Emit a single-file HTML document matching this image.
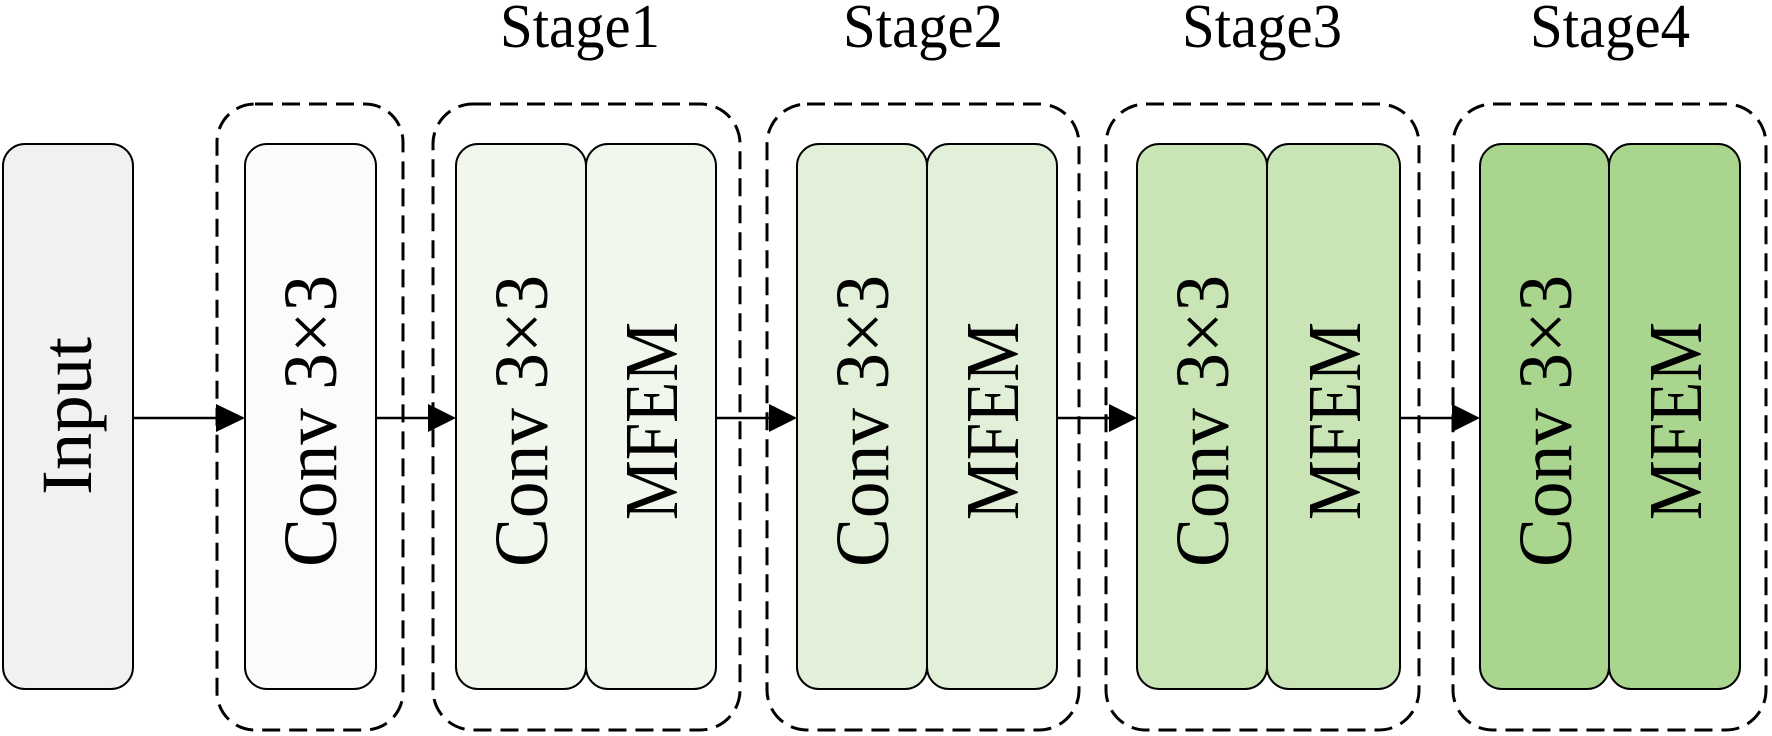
<!DOCTYPE html>
<html><head><meta charset="utf-8"><style>html,body{margin:0;padding:0;background:#fff}svg{display:block}</style></head><body>
<svg width="1772" height="736" viewBox="0 0 1772 736" xmlns="http://www.w3.org/2000/svg" font-family="Liberation Serif, serif">
<g fill="none" stroke="#000" stroke-width="3" stroke-dasharray="18,9">
<rect x="217" y="104" width="186" height="626" rx="38"/>
<rect x="433" y="104" width="307" height="626" rx="40"/>
<rect x="767" y="104" width="312" height="626" rx="40"/>
<rect x="1106" y="104" width="313" height="626" rx="40"/>
<rect x="1453" y="104" width="313" height="626" rx="40"/>
</g>
<g stroke="#000" stroke-width="2">
<rect x="3" y="144" width="130" height="545" rx="22" fill="#f1f1f1"/>
<rect x="245" y="144" width="131" height="545" rx="22" fill="#fbfcfa"/>
<rect x="456" y="144" width="130" height="545" rx="22" fill="#f1f7ec"/>
<rect x="586" y="144" width="130" height="545" rx="22" fill="#f1f7ec"/>
<rect x="797" y="144" width="130" height="545" rx="22" fill="#e2f0d9"/>
<rect x="927" y="144" width="130" height="545" rx="22" fill="#e2f0d9"/>
<rect x="1137" y="144" width="130" height="545" rx="22" fill="#c9e5b5"/>
<rect x="1267" y="144" width="133" height="545" rx="22" fill="#c9e5b5"/>
<rect x="1480" y="144" width="129" height="545" rx="22" fill="#a9d58e"/>
<rect x="1609" y="144" width="131" height="545" rx="22" fill="#a9d58e"/>
</g>
<g stroke="#000" stroke-width="2.5">
<line x1="133" y1="418" x2="216" y2="418"/>
<line x1="376" y1="418" x2="428" y2="418"/>
<line x1="716" y1="418" x2="769" y2="418"/>
<line x1="1057" y1="418" x2="1109" y2="418"/>
<line x1="1401" y1="418" x2="1452" y2="418"/>
</g>
<g fill="#000">
<path d="M216,404 L245,418 L216,432 z"/>
<path d="M428,404 L456,418 L428,432 z"/>
<path d="M769,404 L797,418 L769,432 z"/>
<path d="M1109,404 L1137,418 L1109,432 z"/>
<path d="M1452,404 L1480,418 L1452,432 z"/>
</g>
<g font-size="62" fill="#000" text-anchor="middle">
<text x="580" y="47" textLength="160" lengthAdjust="spacingAndGlyphs">Stage1</text>
<text x="923" y="47" textLength="160" lengthAdjust="spacingAndGlyphs">Stage2</text>
<text x="1262" y="47" textLength="160" lengthAdjust="spacingAndGlyphs">Stage3</text>
<text x="1610" y="47" textLength="160" lengthAdjust="spacingAndGlyphs">Stage4</text>
</g>
<g font-size="76" fill="#000" text-anchor="middle">
<text transform="translate(91,416) rotate(-90)" font-size="72" textLength="158" lengthAdjust="spacingAndGlyphs">Input</text>
<text transform="translate(336,421) rotate(-90)" textLength="292" lengthAdjust="spacingAndGlyphs">Conv 3×3</text>
<text transform="translate(547,421) rotate(-90)" textLength="292" lengthAdjust="spacingAndGlyphs">Conv 3×3</text>
<text transform="translate(677,421) rotate(-90)" textLength="198" lengthAdjust="spacingAndGlyphs">MFEM</text>
<text transform="translate(888,421) rotate(-90)" textLength="292" lengthAdjust="spacingAndGlyphs">Conv 3×3</text>
<text transform="translate(1018,421) rotate(-90)" textLength="198" lengthAdjust="spacingAndGlyphs">MFEM</text>
<text transform="translate(1228,421) rotate(-90)" textLength="292" lengthAdjust="spacingAndGlyphs">Conv 3×3</text>
<text transform="translate(1360,421) rotate(-90)" textLength="198" lengthAdjust="spacingAndGlyphs">MFEM</text>
<text transform="translate(1571,421) rotate(-90)" textLength="292" lengthAdjust="spacingAndGlyphs">Conv 3×3</text>
<text transform="translate(1701,421) rotate(-90)" textLength="198" lengthAdjust="spacingAndGlyphs">MFEM</text>
</g>
</svg>
</body></html>
